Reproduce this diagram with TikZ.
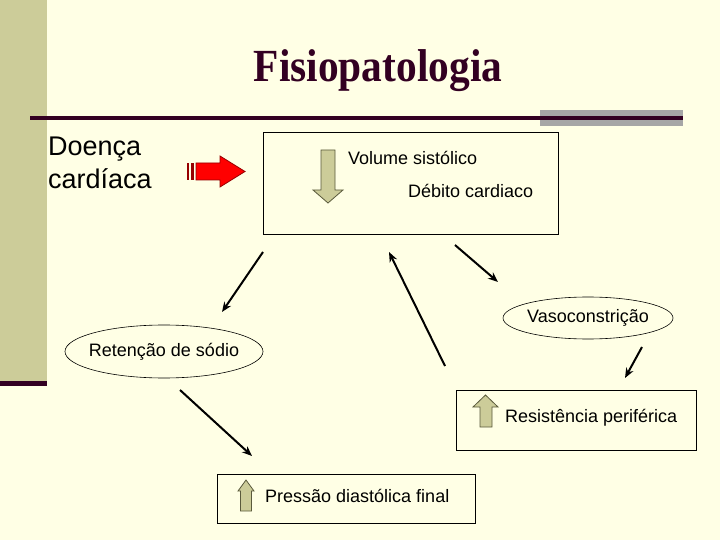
\documentclass[tikz,border=0pt]{standalone}
\usepackage{fontspec}
\setmainfont{Liberation Sans}
\newfontfamily\titlefont{Liberation Serif}
\usetikzlibrary{arrows.meta,shapes.geometric}
\definecolor{bg}{RGB}{255,255,229}
\definecolor{khaki}{RGB}{204,204,153}
\definecolor{plum}{RGB}{51,0,34}
\definecolor{grayb}{RGB}{166,166,166}
\definecolor{olivedark}{RGB}{90,90,60}
\definecolor{darkred}{RGB}{150,0,0}
\begin{document}
\begin{tikzpicture}[x=1pt,y=-1pt,
  lbl/.style={font=\fontsize{18}{21}\selectfont, inner sep=0pt, anchor=base west},
  frame/.style={draw=black, line width=0.8pt, inner sep=0pt},
  oval/.style={ellipse, draw=black, line width=0.6pt, inner ysep=0pt, inner xsep=-12pt, font=\fontsize{18}{21}\selectfont},
  conn/.style={-{Stealth[length=10pt,width=8pt]}, line width=2pt},
  blockarrow/.style={fill=khaki, draw=olivedark, line width=0.8pt, line join=miter}]
% background and frame
\fill[bg] (0,0) rectangle (720,540);
\useasboundingbox (0,0) rectangle (720,540);
\fill[khaki] (0,0) rectangle (47,382);
\fill[plum] (0,381) rectangle (47,386);
\fill[grayb] (540,110) rectangle (683,126);
\fill[plum] (30,116) rectangle (683,120);
% title
\node[font=\titlefont\bfseries\fontsize{46}{50}\selectfont, text=plum, anchor=base, inner sep=0pt] (title) at (378,82) {\scalebox{0.9}[1]{Fisiopatologia}};
% left text
\node[font=\fontsize{27}{33}\selectfont, align=left, anchor=north west, inner sep=0pt] (doenca) at (48,137) {Doença\\cardíaca};
% red arrow
\fill[darkred] (186.7,163) rectangle (189.3,180);
\fill[darkred] (190.7,163) rectangle (194,180);
\draw[fill=red, draw=darkred, line width=0.8pt] (196,163) -- (220,163) -- (220,156) -- (245,171.5) -- (220,187) -- (220,180) -- (196,180) -- cycle;
% box 1
\node[frame, minimum width=295pt, minimum height=102pt] (box1) at (410.5,183) {};
\draw[blockarrow] (321,150) -- (335,150) -- (335,190) -- (343,190) -- (328,203) -- (313,190) -- (321,190) -- cycle;
\node[lbl] (vol) at (348,165) {Volume sistólico};
\node[lbl] (deb) at (408,197) {Débito cardiaco};
% ellipses
\node[oval, minimum width=170pt, minimum height=42pt] (vaso) at (588,318) {Vasoconstrição};
\node[oval, minimum width=198pt, minimum height=53pt] (ret) at (164,351.5) {Retenção de sódio};
% resistance box
\node[frame, minimum width=240pt, minimum height=60pt] (res) at (576,420) {};
\draw[blockarrow] (485.5,395) -- (498,407) -- (492,407) -- (492,427) -- (480,427) -- (480,407) -- (473,407) -- cycle;
\node[lbl] (restxt) at (505,422) {Resistência periférica};
% pressure box
\node[frame, minimum width=258pt, minimum height=49pt] (pres) at (346,498.5) {};
\draw[blockarrow] (246,480) -- (254,491) -- (251.5,491) -- (251.5,511) -- (240.5,511) -- (240.5,491) -- (238,491) -- cycle;
\node[lbl] (prestxt) at (265,502) {Pressão diastólica final};
% connectors
\coordinate (a1s) at (263,252); \coordinate (a1e) at (222,312);
\coordinate (a2s) at (445,366); \coordinate (a2e) at (389,252);
\coordinate (a3s) at (455,245); \coordinate (a3e) at (498,282);
\coordinate (a4s) at (642,347); \coordinate (a4e) at (625,378);
\coordinate (a5s) at (180,390); \coordinate (a5e) at (252,456);
\draw[conn] (a1s) -- (a1e);
\draw[conn] (a2s) -- (a2e);
\draw[conn] (a3s) -- (a3e);
\draw[conn] (a4s) -- (a4e);
\draw[conn] (a5s) -- (a5e);
\end{tikzpicture}
\end{document}
